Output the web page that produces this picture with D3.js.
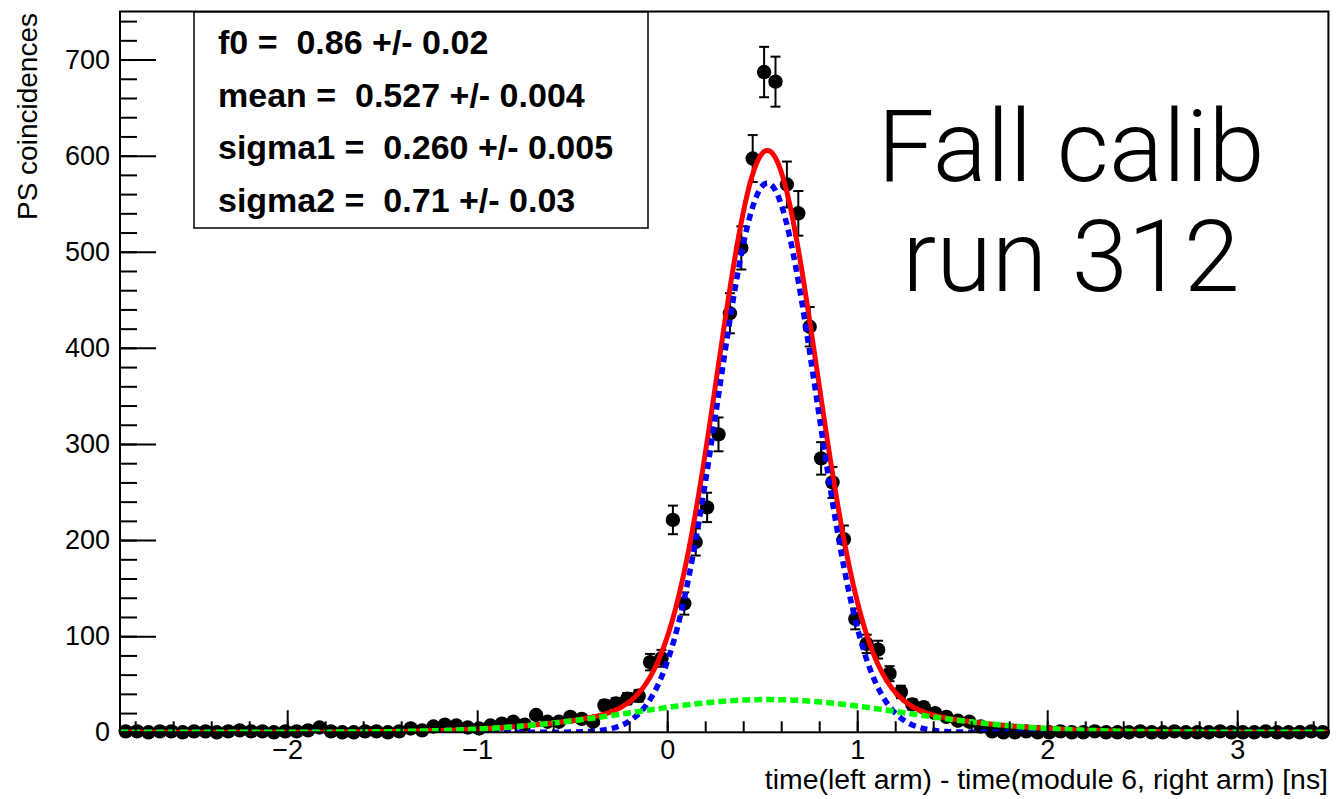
<!DOCTYPE html>
<html>
<head>
<meta charset="utf-8">
<script src="https://cdn.jsdelivr.net/npm/d3@7"></script>
<style>
body { margin: 0; background: #fff; }
svg text { font-family: "Liberation Sans", Arial, Helvetica, sans-serif; fill: #000; }
</style>
</head>
<body>
<svg id="chart" width="1339" height="799"></svg>
<script>
// histogram binning: 106 bins of 0.06 ns
const xMin = -2.88, xMax = 3.48, binWidth = 0.06;

// PS coincidences per bin
const counts = [
    1, 1, 0, 1, 1, 0, 1, 1, 0, 1,
    2, 1, 1, 0, 1, 1, 2, 5, 1, 0,
    0, 1, 1, 0, 1, 4, 2, 6, 8, 7,
    5, 4, 7, 9, 11, 8, 18, 11, 11, 16,
    14, 11, 28, 30, 35, 38, 73, 77, 221, 134,
    198, 234, 310, 436, 504, 597, 687, 677, 570, 540,
    422, 285, 260, 201, 118, 92, 86, 61, 42, 29,
    26, 20, 16, 12, 11, 6, 1, 0, 0, 1,
    0, 0, 1, 0, 0, 1, 0, 0, 0, 1,
    0, 0, 1, 0, 0, 0, 1, 0, 0, 0,
    1, 0, 0, 0, 1, 0
];

const xTickValues = [-2, -1, 0, 1, 2, 3];
const yTickValues = [0, 100, 200, 300, 400, 500, 600, 700];

// double gaussian fit result
const fitLabels = [
    "f0 =  0.86 +/- 0.02",
    "mean =  0.527 +/- 0.004",
    "sigma1 =  0.260 +/- 0.005",
    "sigma2 =  0.71 +/- 0.03"
];
const f0 = 0.86, mean = 0.527, sigma1 = 0.260, sigma2 = 0.71;
const fitNorm = 433; // events x bin width

const noteLines = ["Fall calib", "run 312"];

const margin = {top: 11.5, right: 10.6, bottom: 66.7, left: 120},
      width = 1339 - margin.left - margin.right,
      height = 799 - margin.top - margin.bottom;

const svg = d3.select("#chart");
const g = svg.append("g").attr("transform", `translate(${margin.left},${margin.top})`);

const x = d3.scaleLinear().domain([xMin, xMax]).range([0, width]);
const y = d3.scaleLinear().domain([0, 750]).range([height, 0]);

g.append("clipPath").attr("id", "frame-clip")
    .append("rect").attr("width", width).attr("height", height);

const bins = counts.map((c, i) => ({x: xMin + (i + 0.5) * binWidth, n: c}));

// error bars
const errs = g.append("g").attr("stroke", "#000").attr("stroke-width", 2);
bins.filter(d => d.n > 0).forEach(d => {
    const e = Math.sqrt(d.n);
    const cx = x(d.x);
    errs.append("line").attr("x1", cx).attr("x2", cx).attr("y1", y(d.n - e)).attr("y2", y(d.n + e));
    errs.append("line").attr("x1", cx - 5).attr("x2", cx + 5).attr("y1", y(d.n + e)).attr("y2", y(d.n + e));
    errs.append("line").attr("x1", cx - 5).attr("x2", cx + 5).attr("y1", y(d.n - e)).attr("y2", y(d.n - e));
});

g.append("g").selectAll("circle")
    .data(bins)
    .enter()
    .append("circle")
    .attr("cx", d => x(d.x))
    .attr("cy", d => y(d.n))
    .attr("r", 7.2)
    .attr("fill", "#000");

// fit curves
const gauss = (t, s) => Math.exp(-0.5 * ((t - mean) / s) ** 2) / (Math.sqrt(2 * Math.PI) * s);
const sig = t => fitNorm * f0 * gauss(t, sigma1);
const bkg = t => fitNorm * (1 - f0) * gauss(t, sigma2);
const total = t => sig(t) + bkg(t);
const grid = d3.range(xMin, xMax + 0.001, 0.005);

const curves = g.append("g").attr("clip-path", "url(#frame-clip)").attr("fill", "none");
const line = fn => d3.line().x(t => x(t)).y(t => y(fn(t)))(grid);

curves.append("path").attr("d", line(total)).attr("stroke", "#ff0000").attr("stroke-width", 5);
curves.append("path").attr("d", line(sig)).attr("stroke", "#0000ff").attr("stroke-width", 5.5)
    .attr("stroke-dasharray", "7,5");
curves.append("path").attr("d", line(bkg)).attr("stroke", "#00ff00").attr("stroke-width", 5.5)
    .attr("stroke-dasharray", "8,4");

// axes
const yMinor = d3.range(0, 750, 20);
g.append("g")
    .call(d3.axisLeft(y).tickValues(yMinor).tickSize(-17).tickFormat(""))
    .call(a => a.select(".domain").remove());
g.append("g")
    .attr("class", "y-axis")
    .call(d3.axisLeft(y).tickValues(yTickValues).tickSize(-36).tickPadding(10))
    .call(a => a.select(".domain").remove());

const xMinor = d3.range(-2.8, 3.41, 0.2);
g.append("g")
    .attr("transform", `translate(0,${height})`)
    .call(d3.axisBottom(x).tickValues(xMinor).tickSize(-11).tickFormat(""))
    .call(a => a.select(".domain").remove());
g.append("g")
    .attr("class", "x-axis")
    .attr("transform", `translate(0,${height})`)
    .call(d3.axisBottom(x).tickValues(xTickValues).tickSize(-22).tickPadding(8).tickFormat(d3.format("d")))
    .call(a => a.select(".domain").remove());

g.selectAll(".tick line").attr("stroke", "#000").attr("stroke-width", 2);
g.selectAll(".tick text").attr("font-size", 27).attr("font-family", null);

// frame
g.append("rect")
    .attr("width", width)
    .attr("height", height)
    .attr("fill", "none")
    .attr("stroke", "#000")
    .attr("stroke-width", 2);

// axis titles
svg.append("text")
    .attr("transform", "translate(37,13) rotate(-90)")
    .attr("text-anchor", "end")
    .attr("font-size", 28)
    .text("PS coincidences");

svg.append("text")
    .attr("x", 1328)
    .attr("y", 789)
    .attr("text-anchor", "end")
    .attr("font-size", 28.4)
    .text("time(left arm) - time(module 6, right arm) [ns]");

// fit parameter box
svg.append("rect")
    .attr("x", 194).attr("y", 12)
    .attr("width", 454).attr("height", 216)
    .attr("fill", "#fff")
    .attr("stroke", "#000")
    .attr("stroke-width", 1.5);

svg.append("g").selectAll("text")
    .data(fitLabels)
    .enter()
    .append("text")
    .attr("x", 218)
    .attr("y", (d, i) => 54 + i * 52.5)
    .attr("font-size", 34)
    .attr("font-weight", "bold")
    .style("white-space", "pre")
    .text(d => d);

svg.append("g").selectAll("text")
    .data(noteLines)
    .enter()
    .append("text")
    .attr("x", 1071)
    .attr("y", (d, i) => 181 + i * 110)
    .attr("text-anchor", "middle")
    .attr("font-size", 101)
    .attr("font-weight", 300)
    .style("font-family", "Roboto, 'Open Sans', sans-serif")
    .text(d => d);
</script>
</body>
</html>
